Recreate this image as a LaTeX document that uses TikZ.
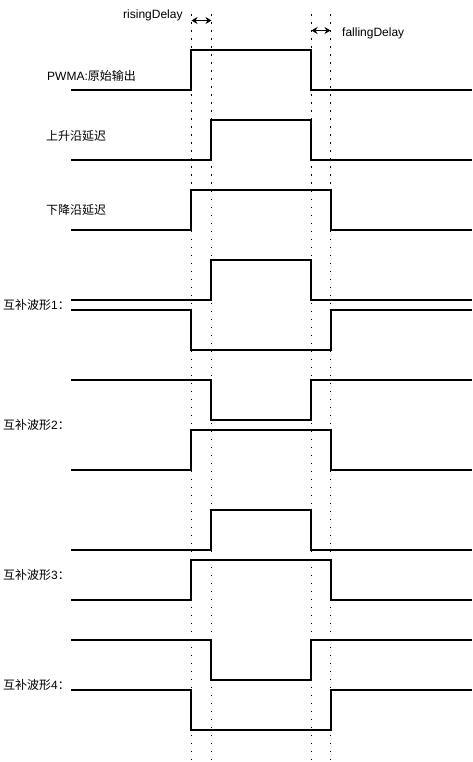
\documentclass[tikz,border=0pt]{standalone}
\usepackage{fontspec}
\setmainfont{Liberation Sans}
\newfontfamily\cjk{Noto Sans CJK SC}
\usepackage{tikz}
\usetikzlibrary{arrows, arrows.meta, positioning}

\begin{document}
\begin{tikzpicture}[x=1pt, y=-1pt,
    sig/.style={line width=1.2pt, line cap=rect},
    guide/.style={line width=1.8pt, dash pattern=on 1.8pt off 6.2pt},
    delay/.style={{Stealth[length=6pt,width=7pt]}-{Stealth[length=6pt,width=7pt]}, line width=1.4pt},
    lbl/.style={anchor=west, inner sep=0pt, font=\fontsize{12}{14}\selectfont}]
    \useasboundingbox (0,0) rectangle (473,762);

    % dotted time marks
    \foreach \t in {191.5, 211.5, 311.5, 330.5}
        \draw [guide] (\t,14.5) -- (\t,762);

    % delay arrows
    \coordinate (r1) at (191.5,20.5);
    \coordinate (r2) at (211.5,20.5);
    \coordinate (f1) at (311.5,30.5);
    \coordinate (f2) at (330.5,30.5);
    \draw [delay] (r1) -- (r2);
    \draw [delay] (f1) -- (f2);
    \node [lbl] (risingDelay) at (123,15) {risingDelay};
    \node [lbl] (fallingDelay) at (342,33) {fallingDelay};

    % labels
    \node [lbl] (pwma) at (47,76) {PWMA:{\cjk 原始输出}};
    \node [lbl] (rise) at (46,136) {\cjk 上升沿延迟};
    \node [lbl] (fall) at (46,210) {\cjk 下降沿延迟};
    \node [lbl] (comp1) at (3,305) {{\cjk 互补波形}1{\cjk ：}};
    \node [lbl] (comp2) at (3,425) {{\cjk 互补波形}2{\cjk ：}};
    \node [lbl] (comp3) at (3,575) {{\cjk 互补波形}3{\cjk ：}};
    \node [lbl] (comp4) at (3,685) {{\cjk 互补波形}4{\cjk ：}};

    % waveforms
    \draw [sig] (72,90) -| (191,50) -| (311,90) -- (471,90);
    \draw [sig] (72,160) -| (211,120) -| (311,160) -- (471,160);
    \draw [sig] (72,230) -| (191,190) -| (331,230) -- (471,230);

    \draw [sig] (72,300) -| (211,260) -| (311,300) -- (471,300);
    \draw [sig] (72,310) -| (191,350) -| (331,310) -- (471,310);

    \draw [sig] (72,380) -| (211,420) -| (311,380) -- (471,380);
    \draw [sig] (72,470) -| (191,430) -| (331,470) -- (471,470);

    \draw [sig] (72,550) -| (211,510) -| (311,550) -- (471,550);
    \draw [sig] (72,600) -| (191,560) -| (331,600) -- (471,600);

    \draw [sig] (72,640) -| (211,680) -| (311,640) -- (471,640);
    \draw [sig] (72,690) -| (191,730) -| (331,690) -- (471,690);
\end{tikzpicture}
\end{document}
